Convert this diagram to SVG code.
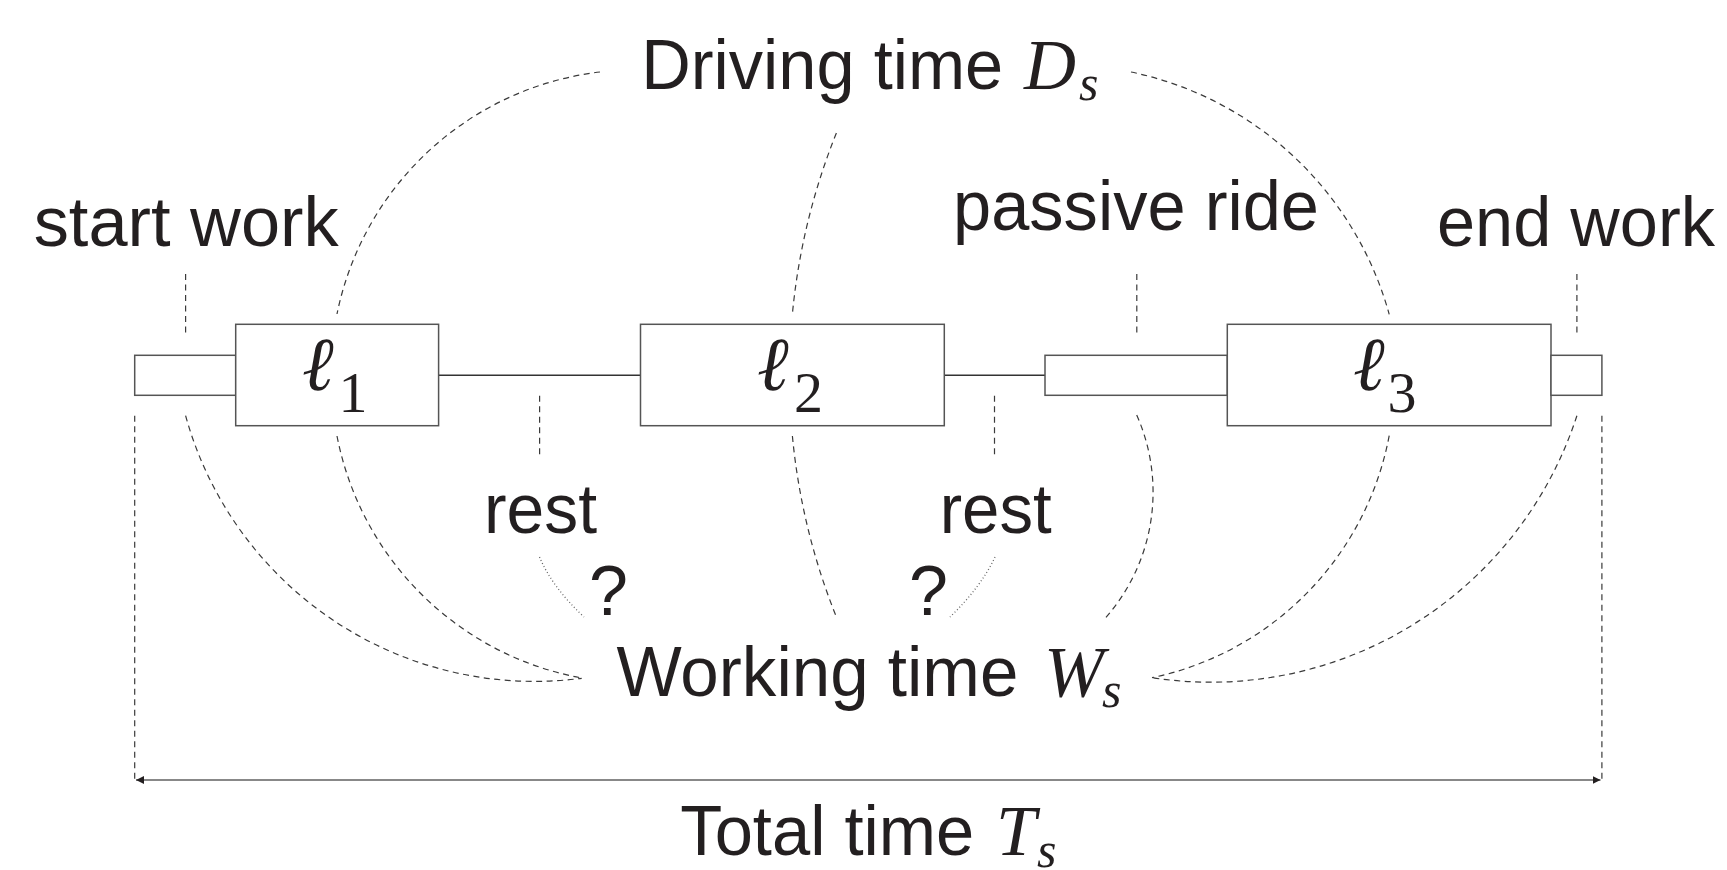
<svg xmlns="http://www.w3.org/2000/svg" width="1727" height="870" viewBox="0 0 1727 870">
<style>
.lbl{font-family:"Liberation Sans",Arial,sans-serif;font-size:70px;fill:#231f20}
.math{font-family:"Liberation Serif","Times New Roman",serif;font-style:italic;fill:#231f20}
.sub{font-family:"Liberation Serif","Times New Roman",serif;fill:#231f20}
.box{fill:#fff;stroke:#555;stroke-width:1.5}
.ln{fill:none;stroke:#333;stroke-width:1.5}
.dash{fill:none;stroke:#3a3a3a;stroke-width:1.2;stroke-dasharray:6 4.5}
.dot{fill:none;stroke:#666;stroke-width:1.3;stroke-dasharray:1 2.4}
</style>
<defs>
<marker id="ah" viewBox="0 0 10 10" refX="10" refY="5" markerWidth="4" markerHeight="4" orient="auto-start-reverse" markerUnits="strokeWidth">
<path d="M0,0 L10,5 L0,10 z" fill="#231f20"/>
</marker>
</defs>
<rect width="1727" height="870" fill="#fff"/>

<g id="connectors">
<line class="ln" x1="438.6" y1="375.3" x2="640.5" y2="375.3"/>
<line class="ln" x1="944.3" y1="375.3" x2="1045" y2="375.3"/>
<path class="dash" d="M600 72 A305 305 0 0 0 337 314"/>
<path class="dash" d="M337 436 A305 305 0 0 0 582 678"/>
<path class="dash" d="M185.6 415.7 A362 362 0 0 0 581.7 678.3"/>
<path class="dash" d="M836.4 133 A648 648 0 0 0 792.4 314"/>
<path class="dash" d="M792.4 436 A648 648 0 0 0 836.4 617"/>
<path class="dash" d="M1131 72 A340 340 0 0 1 1389.2 314.3"/>
<path class="dash" d="M1389.2 435.7 A305 305 0 0 1 1152 677.7"/>
<path class="dash" d="M1576.9 415.7 A385 385 0 0 1 1152 677.7"/>
<path class="dash" d="M1136.7 415 A190 190 0 0 1 1106 617.3"/>
<line class="dash" x1="185.6" y1="274" x2="185.6" y2="334"/>
<line class="dash" x1="1136.8" y1="274" x2="1136.8" y2="334"/>
<line class="dash" x1="1576.9" y1="274" x2="1576.9" y2="334"/>
<line class="dash" x1="539.6" y1="395.7" x2="539.6" y2="455.7"/>
<line class="dash" x1="994.5" y1="395.7" x2="994.5" y2="455.7"/>
<line class="dash" x1="134.7" y1="415.7" x2="134.7" y2="780"/>
<line class="dash" x1="1601.9" y1="415.7" x2="1601.9" y2="780"/>
<path class="dot" d="M539.5 557 Q552 587 584 617"/>
<path class="dot" d="M995 557 Q981 587 950 617"/>
<line x1="136" y1="780" x2="1600.5" y2="780" stroke="#888" stroke-width="2" marker-start="url(#ah)" marker-end="url(#ah)"/>
</g>

<g id="start-rect"><rect class="box" x="134.7" y="355.3" width="101" height="40"/></g>
<g id="l1"><rect class="box" x="235.7" y="324.3" width="202.9" height="101.4"/>
<text class="math" x="302" y="390" font-size="76">ℓ</text><text class="sub" x="338.6" y="411.7" font-size="58">1</text></g>
<g id="l2"><rect class="box" x="640.5" y="324.3" width="303.8" height="101.4"/>
<text class="math" x="757" y="390" font-size="76">ℓ</text><text class="sub" x="794" y="411.7" font-size="58">2</text></g>
<g id="passive-rect"><rect class="box" x="1045" y="355.3" width="182.3" height="40"/></g>
<g id="l3"><rect class="box" x="1227.3" y="324.3" width="323.7" height="101.4"/>
<text class="math" x="1353" y="390" font-size="76">ℓ</text><text class="sub" x="1387.5" y="411.7" font-size="58">3</text></g>
<g id="end-rect"><rect class="box" x="1551" y="355.3" width="50.9" height="40"/></g>

<g id="label-start"><text class="lbl" x="33.7" y="245.7" textLength="305" lengthAdjust="spacingAndGlyphs">start work</text></g>
<g id="label-end"><text class="lbl" x="1437" y="245.7" textLength="278" lengthAdjust="spacingAndGlyphs">end work</text></g>
<g id="label-passive"><text class="lbl" x="953" y="230" textLength="366" lengthAdjust="spacingAndGlyphs">passive ride</text></g>
<g id="label-driving"><text class="lbl" x="641.2" y="89.3" textLength="362" lengthAdjust="spacingAndGlyphs">Driving time</text>
<text class="math" x="1024" y="89.3" font-size="72">D</text><text class="math" x="1079" y="100" font-size="50">s</text></g>
<g id="label-rest1"><text class="lbl" x="484" y="533.3" textLength="113" lengthAdjust="spacingAndGlyphs">rest</text></g>
<g id="label-rest2"><text class="lbl" x="939.7" y="533.3" textLength="112" lengthAdjust="spacingAndGlyphs">rest</text></g>
<g id="q1"><text class="lbl" x="589" y="615">?</text></g>
<g id="q2"><text class="lbl" x="909" y="615">?</text></g>
<g id="label-working"><text class="lbl" x="616.4" y="696" textLength="402" lengthAdjust="spacingAndGlyphs">Working time</text>
<text class="math" x="1044" y="696" font-size="72">W</text><text class="math" x="1102" y="706.7" font-size="50">s</text></g>
<g id="label-total"><text class="lbl" x="680.3" y="855" textLength="294" lengthAdjust="spacingAndGlyphs">Total time</text>
<text class="math" x="996" y="855" font-size="72">T</text><text class="math" x="1037" y="866.7" font-size="50">s</text></g>
</svg>
